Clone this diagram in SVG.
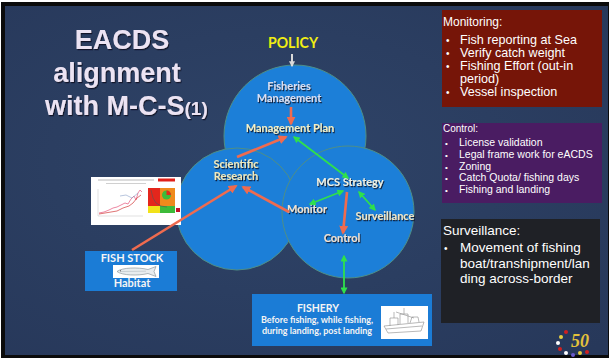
<svg xmlns="http://www.w3.org/2000/svg" width="609" height="358" viewBox="0 0 609 358">
  <defs>
    <radialGradient id="bg" cx="0.45" cy="0.45" r="0.75">
      <stop offset="0" stop-color="#2f4468"/>
      <stop offset="1" stop-color="#27385a"/>
    </radialGradient>
    <filter id="shadow" x="-10%" y="-20%" width="130%" height="150%">
      <feDropShadow dx="1" dy="1.2" stdDeviation="0.6" flood-color="#0a0f1e" flood-opacity="0.85"/>
    </filter>
    <marker id="headRed" viewBox="0 0 10 10" refX="8" refY="5" markerWidth="9" markerHeight="9" markerUnits="userSpaceOnUse" orient="auto-start-reverse">
      <path d="M0,0 L10,5 L0,10 z" fill="#ef6b4f"/>
    </marker>
    <marker id="headGreen" viewBox="0 0 10 10" refX="8" refY="5" markerWidth="7" markerHeight="7" markerUnits="userSpaceOnUse" orient="auto-start-reverse">
      <path d="M0,0 L10,5 L0,10 z" fill="#2fe04c"/>
    </marker>
    <marker id="headGrey" viewBox="0 0 10 10" refX="8" refY="5" markerWidth="6" markerHeight="6" markerUnits="userSpaceOnUse" orient="auto">
      <path d="M0,0 L10,5 L0,10 z" fill="#d9d9d9"/>
    </marker>
    <style>
      .title { font-family: "Liberation Sans", Arial, sans-serif; font-weight: bold; fill: #ece3f3; }
      .node { fill: #1c7fd8; stroke: #4f8f86; stroke-width: 1; }
      .lbl { font-family: Lato, "Open Sans", sans-serif; font-weight: bold; font-size: 11px; text-anchor: middle; }
      .box { fill: #1b7cd6; }
      .boxTxt { font-family: Lato, "Open Sans", sans-serif; font-weight: bold; fill: #f4f4f4; text-anchor: middle; }
      .panel { font-family: "Liberation Sans", Arial, sans-serif; fill: #ffffff; }
      .red { stroke: #ef6b4f; stroke-width: 2.6; fill: none; }
      .green { stroke: #2fe04c; stroke-width: 1.8; fill: none; }
    </style>
  </defs>

  <!-- frame and slide background -->
  <rect x="0" y="0" width="609" height="358" fill="#ffffff"/>
  <rect x="1" y="2" width="608" height="356" fill="#0b0b0b"/>
  <rect x="5" y="6" width="603" height="349" fill="url(#bg)"/>

  <!-- slide title -->
  <g id="title" filter="url(#shadow)">
    <text class="title" x="122" y="49" font-size="27" text-anchor="middle">EACDS</text>
    <text class="title" x="117" y="82" font-size="27" text-anchor="middle">alignment</text>
    <text class="title" x="45" y="115" font-size="27">with M-C-S<tspan font-size="19">(1)</tspan></text>
  </g>

  <!-- policy -->
  <g id="policy">
    <text x="293" y="48" font-family="Lato, 'Open Sans', sans-serif" font-weight="bold" font-size="16" fill="#f1ee12" text-anchor="middle" textLength="50" lengthAdjust="spacingAndGlyphs">POLICY</text>
  </g>

  <!-- the three overlapping circles -->
  <g id="fisheries-management">
    <circle class="node" cx="295" cy="136" r="71"/>
  </g>
  <g id="scientific-research">
    <circle class="node" cx="237" cy="209" r="61"/>
  </g>
  <g id="mcs-strategy">
    <circle class="node" cx="348" cy="212" r="66"/>
  </g>

  <!-- circle labels -->
  <g id="labels" filter="url(#shadow)">
    <text class="lbl" x="289" y="90" fill="#d9def2">Fisheries</text>
    <text class="lbl" x="289" y="102" fill="#d9def2">Management</text>
    <text class="lbl" x="290" y="132" fill="#f3efc6">Management Plan</text>
    <text class="lbl" x="236" y="168" fill="#efe9bd">Scientific</text>
    <text class="lbl" x="236" y="180" fill="#efe9bd">Research</text>
    <text class="lbl" x="350" y="186" fill="#f2f0e0">MCS Strategy</text>
    <text class="lbl" x="307" y="213" fill="#f1e4d2">Monitor</text>
    <text class="lbl" x="385" y="220" fill="#efe6c8">Surveillance</text>
    <text class="lbl" x="342" y="242" fill="#f1e1d2">Control</text>
  </g>

  <!-- chart thumbnail -->
  <g id="stock-chart">
    <rect x="91" y="177" width="90" height="48" fill="#ffffff"/>
    <line x1="98" y1="180" x2="154" y2="180" stroke="#b9b9b9" stroke-width="1"/>
    <line x1="106" y1="183.5" x2="146" y2="183.5" stroke="#c4c4c4" stroke-width="0.8"/>
    <rect x="158" y="178.5" width="17" height="3" fill="#e0201a"/>
    <line x1="98" y1="189" x2="98" y2="216" stroke="#cfcfcf" stroke-width="0.6"/>
    <line x1="98" y1="216" x2="143" y2="216" stroke="#cfcfcf" stroke-width="0.6"/>
    <polyline points="99,213 104,212 109,210 113,208 117,207 121,205 125,203 128,204 131,199 134,196 136,200 138,193 140,190 142,192" fill="none" stroke="#e86a8c" stroke-width="0.8"/>
    <polyline points="99,214 105,213 111,212 117,211 123,208 129,206 133,203 137,198 141,195" fill="none" stroke="#d33a3a" stroke-width="0.7"/>
    <polyline points="120,196 126,195 132,198 138,193" fill="none" stroke="#8aa0c8" stroke-width="0.6"/>
    <rect x="148" y="188" width="12" height="18" fill="#e4261c"/>
    <rect x="160" y="188" width="15" height="18" fill="#ef8a1c"/>
    <rect x="148" y="206" width="12" height="7" fill="#f2e21a"/>
    <rect x="160" y="206" width="15" height="7" fill="#3dbb3a"/>
    <circle cx="166.5" cy="195" r="4.5" fill="#3dbb3a"/>
    <path d="M166.5,195 L166.5,190.5 A4.5,4.5 0 0 1 171,195 z" fill="#e4261c"/>
    <polyline points="151,190 153,198 156,203 161,206 167,207" fill="none" stroke="#555555" stroke-width="0.6"/>
    <rect x="176" y="208" width="4" height="4" fill="#c4122a"/>
  </g>

  <!-- fish stock box -->
  <g id="fish-stock">
    <rect class="box" x="85" y="251" width="92" height="40"/>
    <text class="boxTxt" x="132" y="262" font-size="11">FISH STOCK</text>
    <rect x="113" y="265" width="46" height="13" fill="#ffffff"/>
    <path d="M117,271.5 C122,267.5 138,267 148,269.5 L156,266.5 L154,271.5 L156,276.5 L148,273.5 C138,276 122,275.5 117,271.5 z" fill="#e8ecee" stroke="#7d8a90" stroke-width="0.6"/>
    <line x1="121" y1="271.5" x2="146" y2="271.2" stroke="#9aa4aa" stroke-width="0.4"/>
    <circle cx="120.5" cy="270.8" r="0.6" fill="#444"/>
    <text class="boxTxt" x="132" y="287" font-size="11">Habitat</text>
  </g>

  <!-- fishery box -->
  <g id="fishery">
    <rect class="box" x="252" y="294" width="180" height="52"/>
    <text class="boxTxt" x="318" y="312" font-size="10.5">FISHERY</text>
    <text class="boxTxt" x="317" y="323" font-size="9">Before fishing, while fishing,</text>
    <text class="boxTxt" x="317" y="334" font-size="9">during landing, post landing</text>
    <rect x="381" y="306" width="47" height="33" fill="#ffffff"/>
    <g fill="none" stroke="#8a8a8a" stroke-width="0.6">
      <path d="M384,326 L424,322 L421,331 L388,333 z"/>
      <path d="M390,326 L390,318 L398,318 L398,325"/>
      <path d="M400,324 L400,314 L408,314 L408,323"/>
      <line x1="404" y1="314" x2="404" y2="308"/>
      <line x1="394" y1="318" x2="394" y2="312"/>
      <path d="M410,323 L412,317 L418,317 L419,322"/>
      <line x1="386" y1="329" x2="422" y2="326"/>
      <line x1="396" y1="312" x2="414" y2="318"/>
    </g>
  </g>

  <!-- connectors -->
  <g id="connectors">
    <line x1="292" y1="54" x2="292" y2="66" stroke="#d9d9d9" stroke-width="2" marker-end="url(#headGrey)"/>
    <line class="red" x1="291" y1="107" x2="291" y2="124" stroke-width="2" marker-end="url(#headRed)"/>
    <line class="red" x1="237" y1="157" x2="286" y2="137" marker-end="url(#headRed)"/>
    <line class="green" x1="294" y1="137" x2="348" y2="178" marker-start="url(#headGreen)" marker-end="url(#headGreen)"/>
    <line class="red" x1="132" y1="250" x2="236" y2="186" marker-end="url(#headRed)"/>
    <line class="red" x1="289" y1="212" x2="243" y2="187" marker-end="url(#headRed)"/>
    <line class="green" x1="343" y1="191" x2="310" y2="204" marker-start="url(#headGreen)" marker-end="url(#headGreen)"/>
    <line class="green" x1="375" y1="210" x2="359" y2="192" marker-start="url(#headGreen)" marker-end="url(#headGreen)"/>
    <line class="red" x1="347" y1="192" x2="343" y2="233" marker-end="url(#headRed)"/>
    <line class="green" x1="344" y1="256" x2="344" y2="293" marker-start="url(#headGreen)" marker-end="url(#headGreen)"/>
  </g>

  <!-- monitoring panel -->
  <g id="monitoring">
    <rect x="442" y="10" width="160" height="97" fill="#761508"/>
    <text class="panel" x="443" y="26" font-size="12">Monitoring:</text>
    <g font-size="12.6">
      <text class="panel" x="446" y="43.5" font-size="10">•</text><text class="panel" x="460" y="43.5">Fish reporting at Sea</text>
      <text class="panel" x="446" y="56.5" font-size="10">•</text><text class="panel" x="460" y="56.5">Verify catch weight</text>
      <text class="panel" x="446" y="69.5" font-size="10">•</text><text class="panel" x="460" y="69.5">Fishing Effort (out-in</text>
      <text class="panel" x="460" y="82.5">period)</text>
      <text class="panel" x="446" y="95.5" font-size="10">•</text><text class="panel" x="460" y="95.5">Vessel inspection</text>
    </g>
  </g>

  <!-- control panel -->
  <g id="control">
    <rect x="442" y="123" width="160" height="80" fill="#4a1c62"/>
    <text class="panel" x="443" y="132" font-size="10">Control:</text>
    <g font-size="10.5">
      <text class="panel" x="445" y="146" font-size="8">•</text><text class="panel" x="459" y="146">License validation</text>
      <text class="panel" x="445" y="157.8" font-size="8">•</text><text class="panel" x="459" y="157.8">Legal frame work for eACDS</text>
      <text class="panel" x="445" y="169.5" font-size="8">•</text><text class="panel" x="459" y="169.5">Zoning</text>
      <text class="panel" x="445" y="181.3" font-size="8">•</text><text class="panel" x="459" y="181.3">Catch Quota/ fishing days</text>
      <text class="panel" x="445" y="193" font-size="8">•</text><text class="panel" x="459" y="193">Fishing and landing</text>
    </g>
  </g>

  <!-- surveillance panel -->
  <g id="surveillance">
    <rect x="441" y="219" width="159" height="104" fill="#1f2126"/>
    <text class="panel" x="443" y="235" font-size="13.5">Surveillance:</text>
    <g font-size="13.5">
      <text class="panel" x="444" y="252" font-size="10">•</text><text class="panel" x="460" y="252">Movement of fishing</text>
      <text class="panel" x="460" y="267.5">boat/transhipment/lan</text>
      <text class="panel" x="460" y="283">ding across-border</text>
    </g>
  </g>

  <!-- anniversary emblem -->
  <g id="emblem">
    <circle cx="561" cy="337" r="2" fill="#e8d040"/>
    <circle cx="558" cy="343" r="2" fill="#ffffff"/>
    <circle cx="560" cy="349" r="2" fill="#d02020"/>
    <circle cx="566" cy="353" r="2" fill="#ffffff"/>
    <circle cx="573" cy="355" r="2" fill="#6a5acd"/>
    <circle cx="566" cy="332" r="2" fill="#d02020"/>
    <circle cx="580" cy="353" r="2" fill="#e8d040"/>
    <circle cx="587" cy="352" r="2" fill="#d02020"/>
    <text x="580" y="347" font-family="'Liberation Serif', serif" font-style="italic" font-weight="bold" font-size="18" fill="#e4c23a" text-anchor="middle">50</text>
  </g>
</svg>
